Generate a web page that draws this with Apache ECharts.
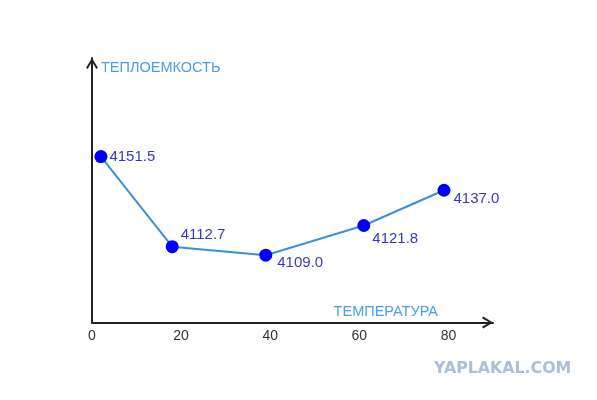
<!DOCTYPE html>
<html>
<head>
<meta charset="utf-8">
<script src="https://cdn.jsdelivr.net/npm/echarts@6/dist/echarts.min.js"></script>
<style>
html,body{margin:0;padding:0;background:#fff;}
#chart{width:597px;height:400px;}
</style>
</head>
<body>
<div id="chart"></div>
<script>
// ---- data ----
const temperatures = [2, 18, 39, 61, 79];
const heatCapacity = [4151.5, 4112.7, 4109.0, 4121.8, 4137.0];
const xTickLabels = ['0', '20', '40', '60', '80'];
const xAxisTitle = 'ТЕМПЕРАТУРА';
const yAxisTitle = 'ТЕПЛОЕМКОСТЬ';
const watermark = 'YAPLAKAL.COM';

// ---- build ----
const labelOffsets = [[0, 0], [0, -12], [3, 8], [0, 13], [1, 9]];
const points = temperatures.map((t, i) => ({
  value: [t, heatCapacity[i]],
  label: { offset: labelOffsets[i] }
}));

const chevron = 'path://M5,0 L10,8.2 L8.6,9.2 L5,3 L1.4,9.2 L0,8.2 Z';
const axisLine = {
  show: true,
  symbol: ['none', chevron],
  symbolSize: [12, 11],
  symbolOffset: [0, -5.5],
  lineStyle: { color: '#222', width: 2 }
};

const chart = echarts.init(document.getElementById('chart'), null, { renderer: 'canvas' });
chart.setOption({
  animation: false,
  backgroundColor: '#ffffff',
  grid: { left: 92, right: 104, top: 58, bottom: 77.5, containLabel: false },
  xAxis: {
    type: 'value',
    min: 0, max: 90, interval: 20,
    axisLine: axisLine,
    axisTick: { show: false },
    splitLine: { show: false },
    axisLabel: {
      color: '#333', fontSize: 14, fontFamily: 'Liberation Sans', margin: 7,
      showMaxLabel: false,
      formatter: v => { const i = xTickLabels.indexOf(String(v)); return i >= 0 ? xTickLabels[i] : ''; }
    },
    name: xAxisTitle,
    nameLocation: 'end',
    nameGap: -55,
    nameTextStyle: { color: '#4a9fe3', fontSize: 14.5, fontFamily: 'Liberation Sans', align: 'right', verticalAlign: 'bottom', padding: [0, 0, 3, 0] }
  },
  yAxis: {
    type: 'value',
    min: 4080, max: 4194,
    axisLine: axisLine,
    axisTick: { show: false },
    splitLine: { show: false },
    axisLabel: { show: false },
    name: yAxisTitle,
    nameLocation: 'end',
    nameGap: -10,
    nameTextStyle: { color: '#4a9fe3', fontSize: 14.5, fontFamily: 'Liberation Sans', align: 'left', verticalAlign: 'middle', padding: [0, 0, 0, 9] }
  },
  series: [{
    type: 'line',
    data: points,
    symbol: 'circle',
    symbolSize: 13,
    itemStyle: { color: '#0000ff' },
    lineStyle: { color: '#3a90dc', width: 2 },
    clip: false,
    label: {
      show: true,
      position: 'right',
      distance: 2,
      color: '#3838c8',
      fontSize: 15,
      fontFamily: 'Liberation Sans',
      formatter: p => p.value[1].toFixed(1)
    }
  }],
  graphic: [{
    type: 'text',
    left: 434,
    top: 361,
    style: { text: watermark, fill: '#a9c0d8', font: 'bold 15.8px "DejaVu Sans"' }
  }]
});
</script>
</body>
</html>
